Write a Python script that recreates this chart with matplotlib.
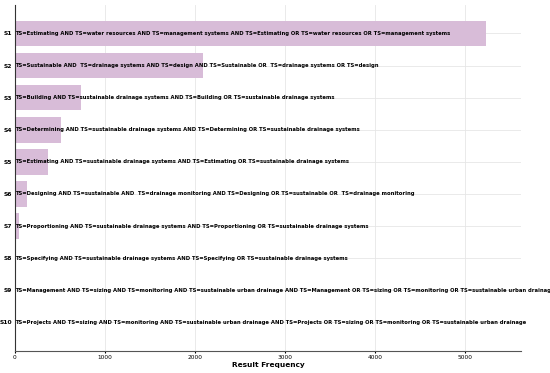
import matplotlib.pyplot as plt

# Data
labels = ["S1", "S2", "S3", "S4", "S5", "S6", "S7", "S8", "S9", "S10"]
queries = [
    "TS=Estimating AND TS=water resources AND TS=management systems AND TS=Estimating OR TS=water resources OR TS=management systems",
    "TS=Sustainable AND  TS=drainage systems AND TS=design AND TS=Sustainable OR  TS=drainage systems OR TS=design",
    "TS=Building AND TS=sustainable drainage systems AND TS=Building OR TS=sustainable drainage systems",
    "TS=Determining AND TS=sustainable drainage systems AND TS=Determining OR TS=sustainable drainage systems",
    "TS=Estimating AND TS=sustainable drainage systems AND TS=Estimating OR TS=sustainable drainage systems",
    "TS=Designing AND TS=sustainable AND  TS=drainage monitoring AND TS=Designing OR TS=sustainable OR  TS=drainage monitoring",
    "TS=Proportioning AND TS=sustainable drainage systems AND TS=Proportioning OR TS=sustainable drainage systems",
    "TS=Specifying AND TS=sustainable drainage systems AND TS=Specifying OR TS=sustainable drainage systems",
    "TS=Management AND TS=sizing AND TS=monitoring AND TS=sustainable urban drainage AND TS=Management OR TS=sizing OR TS=monitoring OR TS=sustainable urban drainage",
    "TS=Projects AND TS=sizing AND TS=monitoring AND TS=sustainable urban drainage AND TS=Projects OR TS=sizing OR TS=monitoring OR TS=sustainable urban drainage",
]
freq = [5230, 2085, 735, 518, 370, 137, 44, 8, 1, 0]

fig = plt.figure(figsize=(5.5, 3.73), dpi=100)
ax = fig.add_axes([0.027, 0.059, 0.92, 0.928])

y = list(range(len(labels)))
ax.barh(y, freq, height=0.8, color="#d8bcd8", zorder=2)

for i, q in enumerate(queries):
    ax.text(0, i, q, va="center", ha="left", fontsize=3.8, fontweight="bold", zorder=3)

ax.set_yticks(y)
ax.set_yticklabels(labels, fontsize=4.3, fontweight="bold")
ax.invert_yaxis()
ax.set_xlim(0, 5620)
ax.set_xticks([0, 1000, 2000, 3000, 4000, 5000])
ax.tick_params(axis="x", labelsize=4.2, length=1.5, pad=1.5)
ax.tick_params(axis="y", length=0, pad=2)
ax.set_xlabel("Result Frequency", fontsize=5.3, fontweight="bold", labelpad=1)

ax.grid(True, color="#e6e6e6", linewidth=0.6, zorder=0)
ax.set_axisbelow(True)
for s in ["top", "right"]:
    ax.spines[s].set_visible(False)
ax.spines["left"].set_color("#333333")
ax.spines["bottom"].set_color("#555555")

plt.savefig("out.png", dpi=100)
plt.close()
